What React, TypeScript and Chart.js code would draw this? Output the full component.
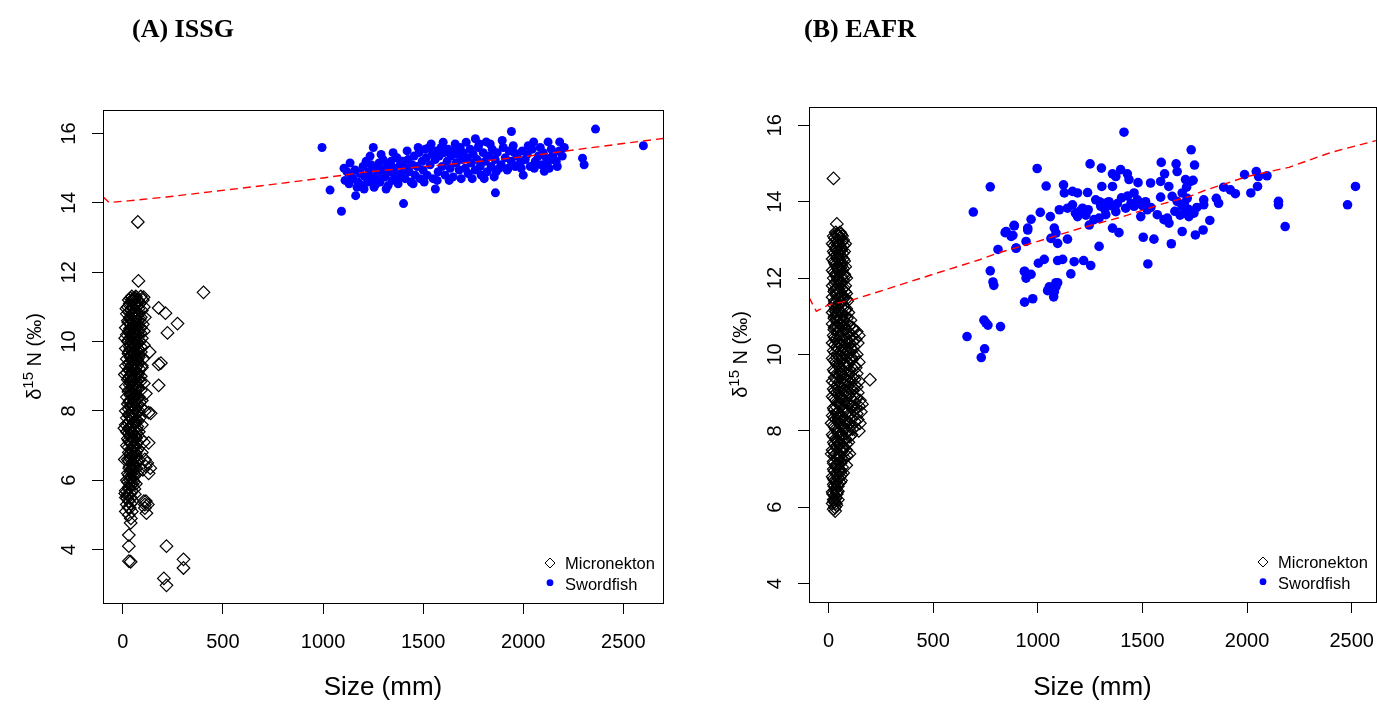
import React, { useEffect, useRef } from "react";
import { Chart, registerables } from "chart.js";

Chart.register(...registerables);

const SANS = "'Liberation Sans', Arial, Helvetica, sans-serif";
const SERIF = "'Liberation Serif', 'Times New Roman', serif";

// ---- text ----
const panelTitles = ["(A) ISSG", "(B) EAFR"];
const legendLabels = ["Micronekton", "Swordfish"];
const xAxisTitle = "Size (mm)";
const yAxisTitleParts = ["\u03B4", "15", " N (\u2030)"];

// ---- ticks ----
const xTickValues = [0, 500, 1000, 1500, 2000, 2500];
const yTickValues = [4, 6, 8, 10, 12, 14, 16];

// ---- (A) ISSG data: [size mm, d15N] ----
const issgMicronekton: number[][] = [
  [75, 13.45], [78, 11.75], [403, 11.42], [104, 11.28], [179, 10.97], [213, 10.82], [273, 10.52], [223, 10.25],
  [134, 9.7], [179, 9.34], [190, 9.38], [179, 8.74], [139, 7.93], [129, 7.95], [129, 7.08], [122, 6.5], [137, 6.35],
  [129, 6.2], [115, 5.4], [125, 5.3], [110, 5.2], [118, 5.05], [39, 4.77], [30, 4.42], [30, 4.1], [30, 3.67],
  [39, 3.65], [218, 4.1], [303, 3.72], [303, 3.47], [205, 3.17], [218, 2.97],
  [45, 11.3], [65, 11.3], [90, 11.3], [30, 11.2], [55, 11.2], [75, 11.2], [100, 11.2], [35, 11.1], [60, 11.1], [85, 11.1],
  [25, 11.0], [50, 11.0], [70, 11.0], [105, 11.0], [40, 10.9], [65, 10.9], [95, 10.9], [20, 10.8], [45, 10.8], [80, 10.8],
  [35, 10.7], [60, 10.7], [90, 10.7], [110, 10.7], [25, 10.6], [50, 10.6], [75, 10.6], [40, 10.5], [65, 10.5], [100, 10.5],
  [15, 10.4], [45, 10.4], [70, 10.4], [90, 10.4], [30, 10.3], [55, 10.3], [80, 10.3], [105, 10.3], [20, 10.2], [50, 10.2],
  [75, 10.2], [35, 10.1], [60, 10.1], [95, 10.1], [25, 10.0], [45, 10.0], [70, 10.0], [85, 10.0], [40, 9.9], [65, 9.9],
  [105, 9.9], [15, 9.8], [50, 9.8], [75, 9.8], [30, 9.7], [55, 9.7], [90, 9.7], [40, 9.6], [65, 9.6], [80, 9.6],
  [20, 9.5], [50, 9.5], [100, 9.5], [35, 9.4], [60, 9.4], [75, 9.4], [15, 9.3], [45, 9.3], [70, 9.3], [95, 9.3],
  [30, 9.2], [55, 9.2], [85, 9.2], [20, 9.1], [50, 9.1], [75, 9.1], [35, 9.0], [65, 9.0], [90, 9.0], [25, 8.9],
  [45, 8.9], [80, 8.9], [40, 8.8], [60, 8.8], [105, 8.8], [15, 8.7], [50, 8.7], [75, 8.7], [30, 8.6], [65, 8.6],
  [90, 8.6], [40, 8.5], [55, 8.5], [115, 8.5], [20, 8.4], [50, 8.4], [80, 8.4], [35, 8.3], [65, 8.3], [95, 8.3],
  [25, 8.2], [45, 8.2], [75, 8.2], [40, 8.1], [60, 8.1], [90, 8.1], [15, 8.0], [50, 8.0], [80, 8.0], [110, 8.0],
  [30, 7.9], [65, 7.9], [20, 7.8], [45, 7.8], [85, 7.8], [35, 7.7], [60, 7.7], [75, 7.7], [15, 7.6], [50, 7.6],
  [95, 7.6], [30, 7.5], [65, 7.5], [20, 7.4], [45, 7.4], [80, 7.4], [40, 7.3], [60, 7.3], [25, 7.2], [50, 7.2],
  [90, 7.2], [35, 7.1], [70, 7.1], [105, 7.1], [20, 7.0], [55, 7.0], [40, 6.9], [75, 6.9], [30, 6.8], [60, 6.8],
  [95, 6.8], [45, 6.7], [65, 6.7], [25, 6.6], [80, 6.6], [110, 6.6], [50, 6.5], [65, 6.5], [35, 6.4], [115, 6.4],
  [45, 6.3], [60, 6.3], [100, 6.3], [25, 6.2], [70, 6.2], [40, 6.1], [55, 6.1], [20, 6.0], [50, 6.0], [35, 5.9],
  [65, 5.9], [30, 5.8], [15, 5.7], [45, 5.7], [25, 5.6], [60, 5.6], [15, 5.5], [40, 5.5], [30, 5.4], [50, 5.4],
  [105, 5.4], [20, 5.3], [110, 5.3], [35, 5.2], [15, 5.1], [45, 5.1], [30, 5.0], [40, 4.9],
  [38, 11.25], [62, 11.25], [48, 11.15], [80, 11.15], [33, 11.05], [58, 11.05], [52, 10.95], [78, 10.95], [30, 10.85],
  [57, 10.85], [45, 10.75], [70, 10.75], [38, 10.65], [62, 10.65], [85, 10.65], [28, 10.55], [55, 10.55], [50, 10.45],
  [78, 10.45], [40, 10.35], [63, 10.35], [33, 10.25], [58, 10.25], [88, 10.25], [45, 10.15], [70, 10.15], [30, 10.05],
  [55, 10.05], [48, 9.95], [75, 9.95], [35, 9.85], [60, 9.85], [90, 9.85], [42, 9.75], [68, 9.75], [28, 9.65],
  [55, 9.65], [38, 9.55], [62, 9.55], [80, 9.55], [45, 9.45], [70, 9.45], [30, 9.35], [55, 9.35], [40, 9.25],
  [65, 9.25], [95, 9.25], [35, 9.15], [62, 9.15], [45, 9.05], [75, 9.05], [30, 8.95], [55, 8.95], [42, 8.85],
  [68, 8.85], [88, 8.85], [35, 8.75], [60, 8.75], [45, 8.65], [78, 8.65], [28, 8.55], [62, 8.55], [38, 8.45],
  [68, 8.45], [48, 8.35], [75, 8.35], [32, 8.25], [58, 8.25], [85, 8.25], [45, 8.15], [70, 8.15], [30, 8.05],
  [62, 8.05], [42, 7.95], [75, 7.95], [35, 7.85], [58, 7.85], [45, 7.75], [68, 7.75], [28, 7.65], [62, 7.65],
  [40, 7.55], [72, 7.55], [35, 7.45], [55, 7.45], [28, 7.35], [50, 7.35], [70, 7.35], [40, 7.25], [62, 7.25],
  [30, 7.15], [55, 7.15], [42, 7.05], [68, 7.05], [28, 6.95], [58, 6.95], [45, 6.85], [70, 6.85], [35, 6.75],
  [55, 6.75], [40, 6.65], [62, 6.65], [30, 6.55], [72, 6.55], [45, 6.45], [58, 6.45], [32, 6.35], [68, 6.35],
  [40, 6.25], [52, 6.25], [30, 6.15], [62, 6.15], [42, 6.05], [25, 5.95], [55, 5.95], [40, 5.85], [30, 5.75],
  [58, 5.75],
  [48, 11.22], [68, 11.08], [42, 10.92], [62, 10.78], [52, 10.62], [72, 10.48], [36, 10.38], [58, 10.22], [48, 10.08],
  [66, 9.92], [38, 9.78], [56, 9.62], [72, 9.48], [44, 9.32], [60, 9.18], [38, 9.02], [52, 8.88], [70, 8.72],
  [42, 8.58], [58, 8.42], [36, 8.28], [52, 8.12], [68, 7.98], [40, 7.82], [55, 7.68], [34, 7.52], [48, 7.38],
  [66, 7.22], [38, 7.08], [52, 6.92], [64, 6.78], [36, 6.62], [50, 6.48], [42, 6.32], [56, 6.18], [34, 6.02],
  [48, 5.88], [38, 5.62], [22, 5.48], [28, 5.22], [40, 5.32], [12, 5.62], [10, 6.6], [8, 7.5], [10, 9.05],
  [12, 10.1], [18, 10.95],
];

const issgSwordfish: number[][] = [
  [995, 15.6], [1035, 14.37], [1092, 13.76], [1163, 14.21], [1251, 15.6], [1402, 13.98], [1561, 14.4], [1861, 14.29],
  [1941, 16.06], [2361, 16.13], [2600, 15.65], [2296, 15.29], [2304, 15.1], [2182, 15.76], [2124, 15.76], [2052, 15.76],
  [2144, 15.25], [2105, 14.91], [2000, 14.8], [1761, 15.85], [1815, 15.76],
  [1110, 14.65], [1120, 14.9], [1130, 14.55], [1140, 14.8], [1150, 14.7], [1160, 14.95], [1175, 14.6], [1185, 14.85],
  [1195, 14.5], [1200, 15.05], [1210, 14.75], [1215, 15.2], [1225, 14.6], [1230, 14.9], [1240, 15.1], [1245, 14.7],
  [1255, 14.45], [1260, 15.0], [1270, 14.8], [1280, 15.15], [1285, 14.6], [1295, 14.95], [1300, 15.25], [1310, 14.75],
  [1315, 14.4], [1320, 15.05], [1330, 14.9], [1340, 15.2], [1345, 14.65], [1355, 15.0], [1360, 14.8], [1370, 15.3],
  [1375, 14.55], [1385, 15.1], [1390, 14.85], [1400, 15.2], [1410, 14.7], [1415, 15.0], [1425, 15.25], [1430, 14.9],
  [1440, 14.6], [1445, 15.1], [1455, 15.35], [1460, 14.8], [1470, 15.05], [1480, 15.45], [1485, 14.7], [1495, 15.2],
  [1500, 14.95], [1510, 15.55], [1515, 15.3], [1520, 14.8], [1530, 15.6], [1535, 15.1], [1545, 15.4], [1550, 14.7],
  [1560, 15.25], [1565, 15.5], [1575, 14.9], [1580, 15.35], [1590, 15.6], [1595, 15.05], [1605, 15.45], [1610, 14.8],
  [1620, 15.2], [1625, 15.55], [1635, 15.0], [1640, 15.35], [1650, 14.75], [1655, 15.5], [1665, 15.15], [1670, 15.4],
  [1680, 14.95], [1685, 15.6], [1695, 15.25], [1700, 15.45], [1710, 15.0], [1720, 15.3], [1725, 14.85], [1735, 15.55],
  [1740, 15.15], [1750, 15.4], [1760, 14.95], [1770, 15.25], [1775, 15.6], [1785, 15.05], [1790, 14.8], [1800, 15.45],
  [1810, 15.2], [1820, 14.9], [1830, 15.35], [1840, 15.05], [1845, 15.55], [1855, 14.75], [1860, 15.25], [1870, 15.45],
  [1880, 15.0], [1890, 15.1], [1900, 15.6], [1910, 15.3], [1920, 14.95], [1930, 15.5], [1940, 15.2], [1950, 15.65],
  [1960, 15.05], [1970, 15.35], [1985, 15.15], [1995, 15.5], [2010, 15.25], [2020, 15.4], [2035, 15.05], [2045, 15.55],
  [2060, 15.2], [2075, 15.35], [2090, 15.1], [2100, 15.45], [2115, 15.3], [2130, 15.0], [2150, 15.4], [2165, 15.2],
  [2180, 15.5],
  [1105, 15.0], [1135, 15.15], [1170, 14.45], [1205, 14.4], [1235, 15.35], [1265, 14.55], [1290, 15.4], [1325, 14.5],
  [1350, 15.45], [1380, 14.7], [1420, 15.5], [1450, 14.55], [1475, 15.6], [1505, 14.6], [1540, 15.7], [1570, 14.65],
  [1600, 15.75], [1630, 14.65], [1660, 15.7], [1690, 14.7], [1715, 15.75], [1745, 14.7], [1780, 15.7], [1805, 14.7],
  [1835, 15.7], [1865, 14.9], [1895, 15.8], [1925, 15.0], [1955, 15.45], [1990, 15.0], [2025, 15.65], [2055, 15.0],
  [2085, 15.6], [2120, 15.15], [2140, 15.55], [2170, 15.05], [2195, 15.35], [2205, 15.6],
];

const issgTrend: number[][] = [
  [-99, 14.18], [-68, 14.01], [26, 14.06], [217, 14.17], [408, 14.3], [600, 14.43], [800, 14.57], [1000, 14.72],
  [1200, 14.88], [1450, 15.02], [1750, 15.18], [2000, 15.33], [2320, 15.58], [2698, 15.86],
];

// ---- (B) EAFR data ----
const eafrMicronekton: number[][] = [
  [24, 14.61], [40, 13.42], [198, 9.34], [32, 5.9],
  [35, 13.2], [55, 13.2], [25, 13.1], [45, 13.1], [65, 13.1], [40, 13.0], [70, 13.0], [20, 12.9], [50, 12.9], [80, 12.9],
  [35, 12.8], [60, 12.8], [25, 12.7], [45, 12.7], [75, 12.7], [40, 12.6], [55, 12.6], [20, 12.5], [50, 12.5], [70, 12.5],
  [30, 12.4], [60, 12.4], [40, 12.3], [80, 12.3], [20, 12.2], [50, 12.2], [65, 12.2], [35, 12.1], [75, 12.1], [25, 12.0],
  [45, 12.0], [85, 12.0], [35, 11.9], [60, 11.9], [20, 11.8], [50, 11.8], [80, 11.8], [30, 11.7], [65, 11.7], [40, 11.6],
  [85, 11.6], [20, 11.5], [55, 11.5], [75, 11.5], [30, 11.4], [90, 11.4], [25, 11.3], [50, 11.3], [70, 11.3], [35, 11.2],
  [85, 11.2], [20, 11.1], [60, 11.1], [95, 11.1], [30, 11.0], [45, 11.0], [80, 11.0], [40, 10.9], [70, 10.9], [105, 10.9],
  [20, 10.8], [55, 10.8], [90, 10.8], [30, 10.7], [75, 10.7], [115, 10.7], [45, 10.6], [95, 10.6], [135, 10.6], [25, 10.5],
  [65, 10.5], [110, 10.5], [145, 10.5], [35, 10.4], [85, 10.4], [130, 10.4], [20, 10.3], [55, 10.3], [100, 10.3], [140, 10.3],
  [40, 10.2], [75, 10.2], [120, 10.2], [25, 10.1], [60, 10.1], [95, 10.1], [45, 10.0], [80, 10.0], [135, 10.0], [20, 9.9],
  [65, 9.9], [110, 9.9], [35, 9.8], [90, 9.8], [145, 9.8], [50, 9.7], [75, 9.7], [125, 9.7], [25, 9.6], [60, 9.6],
  [100, 9.6], [40, 9.5], [85, 9.5], [135, 9.5], [30, 9.4], [70, 9.4], [115, 9.4], [20, 9.3], [55, 9.3], [95, 9.3],
  [145, 9.3], [45, 9.2], [80, 9.2], [125, 9.2], [25, 9.1], [65, 9.1], [105, 9.1], [40, 9.0], [90, 9.0], [140, 9.0],
  [20, 8.9], [60, 8.9], [120, 8.9], [35, 8.8], [75, 8.8], [150, 8.8], [50, 8.7], [100, 8.7], [160, 8.7], [25, 8.6],
  [70, 8.6], [130, 8.6], [45, 8.5], [90, 8.5], [155, 8.5], [20, 8.4], [60, 8.4], [115, 8.4], [35, 8.3], [80, 8.3],
  [140, 8.3], [15, 8.2], [55, 8.2], [100, 8.2], [150, 8.2], [30, 8.1], [70, 8.1], [125, 8.1], [45, 8.0], [90, 8.0],
  [145, 8.0], [20, 7.9], [60, 7.9], [110, 7.9], [35, 7.8], [80, 7.8], [25, 7.7], [55, 7.7], [95, 7.7], [40, 7.6],
  [70, 7.6], [20, 7.5], [60, 7.5], [85, 7.5], [15, 7.4], [35, 7.4], [50, 7.4], [100, 7.4], [40, 7.3], [75, 7.3],
  [25, 7.2], [60, 7.2], [35, 7.1], [85, 7.1], [25, 7.0], [50, 7.0], [40, 6.9], [70, 6.9], [20, 6.8], [55, 6.8],
  [30, 6.7], [60, 6.7], [25, 6.6], [45, 6.6], [35, 6.5], [20, 6.4], [40, 6.4], [30, 6.3], [25, 6.2], [45, 6.2],
  [20, 6.1], [35, 6.1], [30, 6.0],
  [40, 13.15], [60, 13.15], [30, 13.05], [55, 13.05], [45, 12.95], [65, 12.95], [28, 12.85], [52, 12.85], [72, 12.85],
  [38, 12.75], [62, 12.75], [30, 12.65], [50, 12.65], [68, 12.65], [42, 12.55], [62, 12.55], [28, 12.45], [52, 12.45],
  [75, 12.45], [35, 12.35], [58, 12.35], [45, 12.25], [70, 12.25], [28, 12.15], [55, 12.15], [38, 12.05], [62, 12.05],
  [78, 12.05], [45, 11.95], [70, 11.95], [30, 11.85], [58, 11.85], [42, 11.75], [72, 11.75], [28, 11.65], [55, 11.65],
  [78, 11.65], [38, 11.55], [62, 11.55], [45, 11.45], [70, 11.45], [85, 11.45], [32, 11.35], [58, 11.35], [42, 11.25],
  [75, 11.25], [30, 11.15], [52, 11.15], [80, 11.15], [40, 11.05], [65, 11.05], [28, 10.95], [55, 10.95], [88, 10.95],
  [42, 10.85], [68, 10.85], [35, 10.75], [60, 10.75], [98, 10.75], [28, 10.65], [55, 10.65], [80, 10.65], [120, 10.65],
  [45, 10.55], [88, 10.55], [30, 10.45], [60, 10.45], [100, 10.45], [42, 10.35], [75, 10.35], [118, 10.35], [30, 10.25],
  [62, 10.25], [95, 10.25], [45, 10.15], [80, 10.15], [110, 10.15], [32, 10.05], [65, 10.05], [100, 10.05], [50, 9.95],
  [88, 9.95], [125, 9.95], [28, 9.85], [65, 9.85], [110, 9.85], [40, 9.75], [95, 9.75], [55, 9.65], [85, 9.65],
  [130, 9.65], [30, 9.55], [70, 9.55], [110, 9.55], [50, 9.45], [95, 9.45], [38, 9.35], [78, 9.35], [125, 9.35],
  [30, 9.25], [65, 9.25], [105, 9.25], [50, 9.15], [90, 9.15], [135, 9.15], [30, 9.05], [70, 9.05], [115, 9.05],
  [45, 8.95], [95, 8.95], [28, 8.85], [65, 8.85], [105, 8.85], [135, 8.85], [42, 8.75], [85, 8.75], [125, 8.75],
  [35, 8.65], [58, 8.65], [110, 8.65], [145, 8.65], [28, 8.55], [70, 8.55], [125, 8.55], [40, 8.45], [85, 8.45],
  [135, 8.45], [28, 8.35], [60, 8.35], [105, 8.35], [45, 8.25], [80, 8.25], [125, 8.25], [25, 8.15], [60, 8.15],
  [95, 8.15], [35, 8.05], [75, 8.05], [115, 8.05], [45, 7.95], [85, 7.95], [25, 7.85], [60, 7.85], [100, 7.85],
  [40, 7.75], [75, 7.75], [30, 7.65], [55, 7.65], [85, 7.65], [40, 7.55], [70, 7.55], [25, 7.45], [62, 7.45],
  [30, 7.35], [55, 7.35], [88, 7.35], [45, 7.25], [70, 7.25], [25, 7.15], [58, 7.15], [38, 7.05], [65, 7.05],
  [28, 6.95], [52, 6.95], [40, 6.85], [62, 6.85], [25, 6.75], [48, 6.75], [35, 6.65], [55, 6.65], [28, 6.55],
  [45, 6.55], [30, 6.45], [22, 6.35], [40, 6.35], [35, 6.25], [28, 6.15], [38, 6.05], [25, 5.95],
  [48, 13.12], [38, 12.92], [58, 12.72], [42, 12.52], [62, 12.32], [38, 12.12], [52, 11.92], [40, 11.72], [62, 11.52],
  [48, 11.32], [38, 11.12], [58, 10.92], [48, 10.72], [72, 10.52], [52, 10.32], [85, 10.12], [40, 9.92], [75, 9.72],
  [58, 9.52], [90, 9.32], [45, 9.12], [80, 8.92], [60, 8.72], [95, 8.52], [48, 8.32], [85, 8.12], [62, 7.92],
  [45, 7.72], [70, 7.52], [50, 7.32], [40, 7.12], [55, 6.92], [35, 6.72], [45, 6.42], [30, 6.22], [110, 9.92],
  [120, 9.12], [108, 8.62], [115, 10.12], [100, 8.02],
];

const eafrSwordfish: number[][] = [
  [692, 13.73], [773, 14.39], [662, 10.47], [746, 10.15], [730, 9.92], [743, 10.9], [752, 10.83], [762, 10.77],
  [822, 10.73], [773, 12.19], [786, 11.9], [790, 11.81], [810, 12.75], [844, 13.19], [887, 13.38], [881, 13.12],
  [897, 12.79], [952, 13.31], [968, 13.54], [997, 14.87], [1040, 14.41], [937, 12.18], [944, 12.0], [968, 12.1],
  [937, 11.37], [976, 11.46], [1055, 11.77], [1079, 11.64], [1095, 11.88],
  [1412, 15.82], [1733, 15.36], [1250, 14.99], [1304, 14.88], [1590, 15.03], [1661, 14.99], [1666, 14.79], [1749, 14.96],
  [1123, 14.44], [1306, 14.4], [1357, 14.4], [1357, 14.73], [1373, 14.66], [1396, 14.84], [1428, 14.73], [1436, 14.58],
  [1479, 14.5], [1539, 14.49], [1587, 14.53], [1606, 14.73], [1626, 14.4], [1706, 14.58], [1730, 14.53], [1742, 14.56],
  [1711, 14.38], [1127, 14.23], [1166, 14.27], [1190, 14.23], [1238, 14.24], [1460, 14.23], [1587, 14.12], [1642, 14.14],
  [1666, 14.01], [1690, 14.23], [1714, 14.09], [1793, 14.05], [1793, 13.92], [1853, 14.09], [1864, 13.96], [1888, 14.38],
  [1920, 14.31], [1944, 14.21], [1988, 14.71], [2044, 14.79], [2055, 14.66], [2095, 14.68], [2018, 14.23], [2050, 14.4],
  [2150, 14.01], [2150, 13.92], [2182, 13.35], [2518, 14.4], [2480, 13.92], [888, 13.37], [849, 13.22], [873, 13.09],
  [896, 12.78], [952, 13.26], [1012, 13.72], [1060, 13.61], [1103, 13.79], [1142, 13.83], [1166, 13.92], [1190, 13.61],
  [1214, 13.83], [1241, 13.79], [1277, 14.05], [1301, 13.88], [1333, 13.98], [1357, 13.89], [1373, 13.74], [1246, 13.39],
  [1269, 13.53], [1293, 13.57], [1325, 13.66], [1357, 13.31], [1388, 13.19], [1420, 13.83], [1460, 13.88], [1476, 14.05],
  [1492, 13.61], [1523, 13.79], [1571, 13.66], [1603, 13.53], [1619, 13.57], [1627, 13.44], [1690, 13.88], [1706, 13.7],
  [1722, 13.61], [1746, 13.7], [1822, 13.51], [1790, 13.26], [1753, 13.13], [1690, 13.22], [944, 12.96], [1063, 13.04],
  [1095, 12.91], [1079, 13.31], [1142, 13.02], [1087, 13.18], [1293, 12.83], [1504, 13.07], [1555, 13.02], [1638, 12.9],
  [1526, 12.37], [1003, 12.39], [1031, 12.49], [1095, 12.46], [1119, 12.49], [1174, 12.43], [1219, 12.46], [1253, 12.33],
  [936, 12.17], [1158, 12.11], [1087, 11.88], [1087, 11.78], [1047, 11.67], [1076, 11.51],
  [1310, 13.95], [1340, 14.0], [1320, 13.8], [1350, 13.9], [1295, 14.0], [1380, 13.95], [1400, 14.1], [1445, 13.95],
  [1430, 14.15], [1500, 13.9], [1515, 14.0], [1540, 13.85], [1655, 13.75], [1680, 13.65], [1700, 13.95], [1720, 13.8],
  [1760, 13.85], [1180, 13.7], [1200, 13.75], [1230, 13.65],
];

const eafrTrend: number[][] = [
  [-93, 11.5], [-58, 11.13], [0, 11.3], [115, 11.43], [300, 11.75], [500, 12.1], [722, 12.48], [817, 12.67],
  [1000, 12.96], [1200, 13.3], [1400, 13.6], [1600, 13.95], [1726, 14.14], [1800, 14.3], [2000, 14.66],
  [2200, 14.9], [2400, 15.29], [2616, 15.6],
];

// ---- layout / style config (kept apart from data) ----
const CANVAS_H = 704;
const panels = [
  {
    key: "A", title: panelTitles[0], micro: issgMicronekton, sword: issgSwordfish, trend: issgTrend,
    canvasLeft: 0, canvasWidth: 690,
    area: { left: 103, top: 110, right: 663, bottom: 603 },
    xRange: [-99, 2698], yRange: [2.46, 16.68],
    diamondR: 6.3, dotR: 4.5, titleX: 132,
  },
  {
    key: "B", title: panelTitles[1], micro: eafrMicronekton, sword: eafrSwordfish, trend: eafrTrend,
    canvasLeft: 690, canvasWidth: 687,
    area: { left: 119, top: 107, right: 686, bottom: 602 },
    xRange: [-93, 2616], yRange: [3.52, 16.48],
    diamondR: 6.3, dotR: 4.8, titleX: 114,
  },
];

function makeDecorPlugin(p: any) {
  return {
    id: "rDecor" + p.key,
    afterDraw(chart: any) {
      const { ctx, chartArea: a } = chart;
      const ys = chart.scales.y;
      ctx.save();
      // box
      ctx.strokeStyle = "#000";
      ctx.lineWidth = 1;
      ctx.strokeRect(Math.round(a.left) + 0.5, Math.round(a.top) + 0.5, Math.round(a.right - a.left), Math.round(a.bottom - a.top));

      // y tick labels (rotated, R style)
      ctx.fillStyle = "#000";
      ctx.font = `20px ${SANS}`;
      ctx.textAlign = "center";
      ctx.textBaseline = "middle";
      ys.ticks.forEach((t: any) => {
        const py = ys.getPixelForValue(t.value);
        ctx.save();
        ctx.translate(a.left - 34, py);
        ctx.rotate(-Math.PI / 2);
        ctx.fillText(String(t.value), 0, 0);
        ctx.restore();
      });

      // y axis title with superscript
      ctx.save();
      ctx.translate(a.left - 69.5, (a.top + a.bottom) / 2);
      ctx.rotate(-Math.PI / 2);
      ctx.textAlign = "left";
      ctx.textBaseline = "alphabetic";
      const big = `20px ${SANS}`;
      const small = `15px ${SANS}`;
      ctx.font = big;
      const w1 = ctx.measureText(yAxisTitleParts[0]).width;
      const w3 = ctx.measureText(yAxisTitleParts[2]).width;
      ctx.font = small;
      const w2 = ctx.measureText(yAxisTitleParts[1]).width;
      let x0 = -(w1 + w2 + w3) / 2;
      const base = 7.2;
      ctx.font = big;
      ctx.fillText(yAxisTitleParts[0], x0, base);
      x0 += w1;
      ctx.font = small;
      ctx.fillText(yAxisTitleParts[1], x0, base - 8);
      x0 += w2;
      ctx.font = big;
      ctx.fillText(yAxisTitleParts[2], x0, base);
      ctx.restore();

      // legend
      const mx = a.right - 113;
      const tx = a.right - 98;
      const m1 = a.bottom - 40;
      const m2 = a.bottom - 20.3;
      ctx.beginPath();
      ctx.moveTo(mx - 5, m1);
      ctx.lineTo(mx, m1 - 5);
      ctx.lineTo(mx + 5, m1);
      ctx.lineTo(mx, m1 + 5);
      ctx.closePath();
      ctx.strokeStyle = "#000";
      ctx.lineWidth = 1;
      ctx.stroke();
      ctx.beginPath();
      ctx.arc(mx, m2, 3.4, 0, Math.PI * 2);
      ctx.fillStyle = "#0000FF";
      ctx.fill();
      ctx.fillStyle = "#000";
      ctx.font = `16.5px ${SANS}`;
      ctx.textAlign = "left";
      ctx.textBaseline = "middle";
      ctx.fillText(legendLabels[0], tx, a.bottom - 38.5);
      ctx.fillText(legendLabels[1], tx, a.bottom - 18);

      // panel title
      ctx.font = `bold 26px ${SERIF}`;
      ctx.textAlign = "left";
      ctx.textBaseline = "alphabetic";
      ctx.fillText(p.title, p.titleX, 37);
      ctx.restore();
    },
  };
}

function PanelChart({ p }: { p: any }) {
  const ref = useRef<HTMLCanvasElement | null>(null);
  useEffect(() => {
    const canvas = ref.current;
    if (!canvas) return;
    const toPts = (arr: number[][]) => arr.map(([x, y]) => ({ x, y }));
    const gridOpts = {
      display: true,
      drawOnChartArea: false,
      drawTicks: true,
      tickLength: 11,
      color: "#000",
      lineWidth: 1,
    };
    const chart = new Chart(canvas, {
      type: "scatter",
      data: {
        datasets: [
          {
            type: "line",
            label: "trend",
            data: toPts(p.trend),
            borderColor: "#FF0000",
            borderWidth: 1.4,
            borderDash: [8, 5],
            pointRadius: 0,
            fill: false,
            tension: 0,
            showLine: true,
            order: 0,
          } as any,
          {
            label: legendLabels[1],
            data: toPts(p.sword),
            pointStyle: "circle",
            pointRadius: p.dotR,
            borderWidth: 0,
            borderColor: "#0000FF",
            backgroundColor: "#0000FF",
            order: 1,
          },
          {
            label: legendLabels[0],
            data: toPts(p.micro),
            pointStyle: "rectRot",
            pointRadius: p.diamondR,
            borderWidth: 1.2,
            borderColor: "#000000",
            backgroundColor: "rgba(0,0,0,0)",
            order: 2,
          },
        ],
      },
      options: {
        animation: false,
        responsive: false,
        maintainAspectRatio: false,
        devicePixelRatio: 1,
        events: [],
        layout: {
          autoPadding: false,
          padding: { left: 0, top: p.area.top, right: p.canvasWidth - p.area.right, bottom: 0 },
        },
        plugins: {
          legend: { display: false },
          tooltip: { enabled: false },
          title: { display: false },
        },
        scales: {
          x: {
            type: "linear",
            position: "bottom",
            min: p.xRange[0],
            max: p.xRange[1],
            afterBuildTicks: (s: any) => {
              s.ticks = xTickValues.map((v) => ({ value: v }));
            },
            afterFit: (s: any) => {
              s.height = CANVAS_H - p.area.bottom;
              s.paddingLeft = 0;
              s.paddingRight = 0;
            },
            grid: gridOpts,
            border: { display: false },
            ticks: {
              color: "#000",
              font: { family: SANS, size: 20 },
              padding: 16,
              maxRotation: 0,
              minRotation: 0,
              autoSkip: false,
              callback: (v: any) => String(v),
            },
            title: {
              display: true,
              text: xAxisTitle,
              color: "#000",
              font: { family: SANS, size: 26, lineHeight: 1.2 },
              padding: { top: 0, bottom: 1 },
            },
          },
          y: {
            type: "linear",
            position: "left",
            min: p.yRange[0],
            max: p.yRange[1],
            afterBuildTicks: (s: any) => {
              s.ticks = yTickValues.map((v) => ({ value: v }));
            },
            afterFit: (s: any) => {
              s.width = p.area.left;
              s.paddingTop = 0;
              s.paddingBottom = 0;
            },
            grid: gridOpts,
            border: { display: false },
            ticks: { display: false },
          },
        },
      } as any,
      plugins: [makeDecorPlugin(p)],
    });
    return () => chart.destroy();
  }, [p]);
  return (
    <canvas
      ref={ref}
      width={p.canvasWidth}
      height={CANVAS_H}
      style={{ position: "absolute", left: p.canvasLeft, top: 0, width: p.canvasWidth, height: CANVAS_H }}
    />
  );
}

export default function App() {
  return (
    <div style={{ position: "absolute", left: 0, top: 0, width: 1377, height: CANVAS_H, background: "#fff", overflow: "hidden" }}>
      {panels.map((p) => (
        <PanelChart key={p.key} p={p} />
      ))}
    </div>
  );
}
